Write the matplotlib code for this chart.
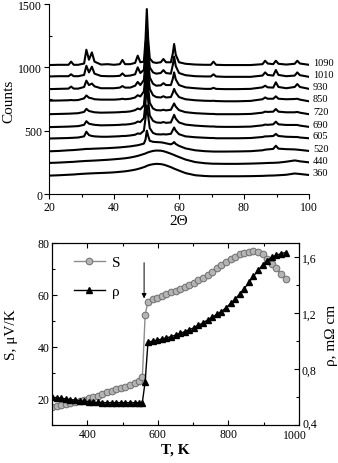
import numpy as np
import matplotlib
matplotlib.use("Agg")
import matplotlib.pyplot as plt
import matplotlib.transforms as mtransforms
from matplotlib.ticker import MultipleLocator

plt.rcParams['font.family'] = ['Liberation Serif', 'DejaVu Serif']

# XRD patterns (2-theta grid shared by all annealing temperatures)
two_theta = [20, 23, 26, 26.8, 27.6, 29, 30.8, 31.5, 32.3, 33.2, 34, 36, 38, 40, 41.8,
             42.6, 43.4, 45, 46.5, 47.3, 48.1, 49.2, 49.7, 50.1, 50.5, 51, 52, 53, 54.4,
             55.2, 56, 57.5, 58.1, 58.5, 59, 60, 62, 65, 68, 69.8, 70.6, 71.4, 74, 78, 82,
             85.7, 86.5, 87.3, 89, 89.8, 90.6, 93, 95.6, 96.4, 97.2, 100]

counts_1090 = [1018, 1020, 1020, 1045, 1020, 1020, 1030, 1139, 1060, 1118, 1045, 1022, 1025, 1020, 1025,
               1058, 1025, 1025, 1035, 1092, 1040, 1045, 1220, 1460, 1230, 1070, 1040, 1035, 1040,
               1066, 1040, 1040, 1110, 1184, 1100, 1040, 1028, 1022, 1020, 1020, 1045, 1020, 1018, 1018, 1018,
               1025, 1052, 1030, 1025, 1052, 1028, 1022, 1028, 1052, 1030, 1020]
counts_1010 = [928, 930, 930, 945, 930, 930, 940, 1012, 960, 1005, 950, 932, 930, 930, 933,
               952, 932, 935, 945, 1000, 955, 980, 1150, 1330, 1150, 1000, 960, 950, 955,
               978, 955, 950, 1020, 1085, 1010, 955, 938, 930, 928, 928, 945, 928, 925, 925, 925,
               935, 960, 940, 935, 979, 940, 930, 935, 960, 938, 925]
counts_930 = [828, 830, 832, 848, 832, 832, 845, 895, 860, 872, 850, 835, 835, 835, 840,
              852, 840, 840, 855, 885, 860, 900, 1050, 1230, 1060, 920, 870, 855, 858,
              875, 860, 860, 910, 960, 905, 860, 842, 835, 830, 830, 838, 830, 828, 828, 830,
              842, 855, 842, 840, 882, 845, 835, 845, 868, 845, 830]
counts_850 = [737, 738, 740, 742, 740, 742, 755, 778, 760, 755, 748, 745, 745, 745, 748,
              752, 748, 752, 762, 780, 770, 810, 950, 1130, 960, 830, 780, 765, 762,
              772, 762, 765, 800, 830, 800, 765, 748, 740, 736, 735, 736, 734, 732, 732, 735,
              748, 762, 752, 752, 771, 752, 748, 750, 752, 745, 732]
counts_720 = [630, 632, 634, 635, 636, 638, 648, 672, 655, 650, 645, 642, 643, 644, 646,
              648, 648, 652, 662, 675, 668, 700, 840, 1000, 850, 720, 675, 662, 660,
              665, 660, 665, 695, 715, 690, 662, 646, 638, 634, 632, 632, 630, 630, 630, 632,
              642, 650, 648, 650, 671, 650, 645, 645, 648, 642, 630]
counts_690 = [528, 530, 532, 533, 534, 536, 546, 575, 555, 550, 546, 542, 543, 544, 546,
              548, 548, 552, 560, 572, 568, 600, 720, 880, 740, 620, 578, 565, 562,
              568, 562, 565, 600, 625, 595, 565, 548, 540, 535, 533, 533, 531, 530, 530, 532,
              542, 548, 546, 550, 571, 550, 545, 545, 545, 540, 530]
counts_605 = [438, 440, 442, 443, 444, 446, 455, 492, 465, 458, 455, 452, 452, 454, 456,
              458, 458, 462, 468, 478, 475, 500, 600, 700, 620, 520, 482, 472, 470,
              472, 470, 475, 505, 525, 500, 472, 455, 448, 444, 442, 442, 440, 440, 440, 442,
              450, 455, 455, 458, 474, 458, 452, 450, 450, 446, 440]
counts_520 = [337, 340, 345, 346, 347, 350, 354, 356, 356, 357, 358, 360, 362, 365, 368,
              370, 372, 376, 382, 385, 390, 398, 430, 500, 460, 420, 412, 410, 408,
              405, 400, 392, 400, 410, 395, 380, 360, 345, 338, 336, 335, 335, 335, 336, 338,
              345, 350, 352, 356, 381, 358, 354, 352, 350, 348, 340]
counts_440 = [245, 248, 252, 253, 254, 257, 260, 261, 262, 263, 264, 267, 270, 274, 278,
              280, 282, 288, 296, 301, 307, 316, 320, 325, 329, 333, 340, 343, 342,
              338, 332, 318, 312, 308, 302, 292, 272, 252, 243, 240, 239, 239, 238, 238, 240,
              243, 244, 245, 246, 247, 248, 255, 265, 262, 258, 250]
counts_360 = [145, 148, 152, 153, 154, 157, 160, 161, 162, 163, 164, 166, 168, 171, 175,
              177, 179, 185, 192, 197, 203, 212, 217, 222, 226, 230, 235, 238, 236,
              232, 226, 212, 205, 200, 195, 185, 165, 148, 142, 140, 140, 140, 140, 140, 141,
              143, 144, 145, 146, 147, 148, 152, 162, 160, 158, 150]

anneal_labels = ['1090', '1010', '930', '850', '720', '690', '605', '520', '440', '360']
patterns = [counts_1090, counts_1010, counts_930, counts_850, counts_720,
            counts_690, counts_605, counts_520, counts_440, counts_360]

# thermopower and resistivity vs temperature
temp_K = [300, 313, 326, 339, 352, 365, 378, 391, 404, 417, 430, 443, 456, 469, 482, 495, 508,
          521, 534, 547, 556, 564, 572, 585, 598, 611, 624, 637, 650, 663, 676, 689, 702, 715,
          728, 741, 754, 767, 780, 793, 806, 819, 832, 845, 858, 871, 884, 897, 910, 923, 936,
          949, 962]
seebeck = [16.8, 17.2, 17.6, 18.0, 18.4, 18.9, 19.3, 19.8, 20.2, 20.8, 21.3, 22.0, 22.6, 23.2,
           23.7, 24.2, 24.8, 25.4, 26.0, 27.0, 28.3, 52.3, 57.5, 58.3, 59.0, 59.6, 60.3, 61.0,
           61.6, 62.2, 62.9, 63.7, 64.6, 65.6, 66.6, 67.8, 69.0, 70.3, 71.6, 72.8, 73.9, 74.8,
           75.6, 76.2, 76.6, 76.8, 76.5, 75.6, 74.0, 72.0, 70.2, 68.1, 66.0]
resistivity = [0.600, 0.595, 0.590, 0.587, 0.582, 0.578, 0.574, 0.570, 0.566, 0.563, 0.561,
               0.560, 0.560, 0.560, 0.560, 0.560, 0.560, 0.560, 0.560, 0.560, 0.560, 0.71, 0.99,
               1.000, 1.006, 1.014, 1.022, 1.031, 1.042, 1.054, 1.067, 1.080, 1.095, 1.112, 1.130,
               1.150, 1.170, 1.190, 1.210, 1.237, 1.268, 1.300, 1.335, 1.375, 1.418, 1.462, 1.505,
               1.543, 1.575, 1.598, 1.613, 1.624, 1.632]

fig = plt.figure(figsize=(3.38, 4.64), dpi=100)

# top panel: XRD
ax_top = fig.add_axes([49 / 338, 1 - 195 / 464, 260 / 338, 190 / 464])
for lab, cts in zip(anneal_labels, patterns):
    ax_top.plot(two_theta, cts, color='black', lw=1.5)
    ax_top.text(101.2, cts[-1] + 18, lab, fontsize=7.5, va='center', ha='left', clip_on=False)
ax_top.set_xlim(20, 100)
ax_top.set_ylim(0, 1500)
ax_top.spines['top'].set_visible(False)
ax_top.spines['right'].set_visible(False)
ax_top.xaxis.set_major_locator(MultipleLocator(20))
ax_top.xaxis.set_minor_locator(MultipleLocator(10))
ax_top.yaxis.set_major_locator(MultipleLocator(500))
ax_top.yaxis.set_minor_locator(MultipleLocator(250))
ax_top.tick_params(which='major', direction='out', length=3.5, width=0.8, labelsize=8.5, pad=1.5)
ax_top.tick_params(which='minor', direction='out', length=2, width=0.8)
ax_top.tick_params(axis='y', which='minor', direction='in')
fig.text(9 / 338, 1 - 101 / 464, 'Counts', rotation=90, ha='center', va='center', fontsize=11)
fig.text(179 / 338, 1 - 222 / 464, '2\u0398', ha='center', va='center', fontsize=11)

# bottom panel: S and rho
ax_s = fig.add_axes([52 / 338, 1 - 426 / 464, 247 / 338, 182 / 464])
ax_r = ax_s.twinx()
ln_s, = ax_s.plot(temp_K, seebeck, color='#8c8c8c', lw=1.0, marker='o', ms=4.8,
                  mfc='#b4b4b4', mec='#6e6e6e', mew=0.7, label='S')
ln_r, = ax_r.plot(temp_K, resistivity, color='black', lw=1.0, marker='^', ms=4.8,
                  mfc='black', mec='black', label='\u03c1')
ax_s.annotate('', xy=(561, 57.6), xytext=(561, 73.5),
              arrowprops=dict(arrowstyle='-|>', color='black', lw=0.7, mutation_scale=7))

ax_s.set_xlim(300, 1000)
ax_s.set_ylim(10, 80)
ax_r.set_ylim(0.4, 1.7)
ax_s.xaxis.set_major_locator(MultipleLocator(200))
ax_s.xaxis.set_minor_locator(MultipleLocator(100))
ax_s.yaxis.set_major_locator(MultipleLocator(20))
ax_s.yaxis.set_minor_locator(MultipleLocator(10))
ax_r.yaxis.set_major_locator(MultipleLocator(0.4))
ax_r.yaxis.set_minor_locator(MultipleLocator(0.2))
ax_r.set_yticks([0.4, 0.8, 1.2, 1.6])
ax_r.set_yticklabels(['0,4', '0,8', '1,2', '1,6'])
ax_s.set_yticks([20, 40, 60, 80])
ax_s.set_xticks([400, 600, 800, 1000])
ax_s.tick_params(which='both', direction='in', top=True, labelsize=8.5, pad=2, width=0.8)
ax_s.tick_params(which='major', length=3.5)
ax_s.tick_params(which='minor', length=2)
ax_s.tick_params(axis='y', which='both', right=False)
ax_r.tick_params(which='both', direction='in', labelsize=8.5, pad=2, width=0.8)
ax_r.tick_params(which='major', length=3.5)
ax_r.tick_params(which='minor', length=2)

# corner labels sit a little apart, as in the original
fig.canvas.draw()
lab_1000 = ax_s.get_xticklabels()[-1]
lab_1000.set_transform(lab_1000.get_transform() + mtransforms.ScaledTranslation(-4 / 100, -1 / 100, fig.dpi_scale_trans))
lab_04 = ax_r.get_yticklabels()[0]
lab_04.set_transform(lab_04.get_transform() + mtransforms.ScaledTranslation(1 / 100, 3 / 100, fig.dpi_scale_trans))

ax_s.legend([ln_s, ln_r], ['S', '\u03c1'], loc='upper left', bbox_to_anchor=(0.089, 0.93),
            frameon=False, fontsize=11, borderpad=0, borderaxespad=0, handlelength=2.0,
            handletextpad=0.5, labelspacing=1.0)

fig.text(11 / 338, 1 - 335 / 464, 'S, \u03bcV/K', rotation=90, ha='center', va='center', fontsize=11)
fig.text(331 / 338, 1 - 335 / 464, '\u03c1, m\u03a9 cm', rotation=90, ha='center', va='center', fontsize=11)
fig.text(175 / 338, 1 - 450 / 464, 'T, K', ha='center', va='center', fontsize=11, fontweight='bold')

fig.savefig('out.png', dpi=100)
